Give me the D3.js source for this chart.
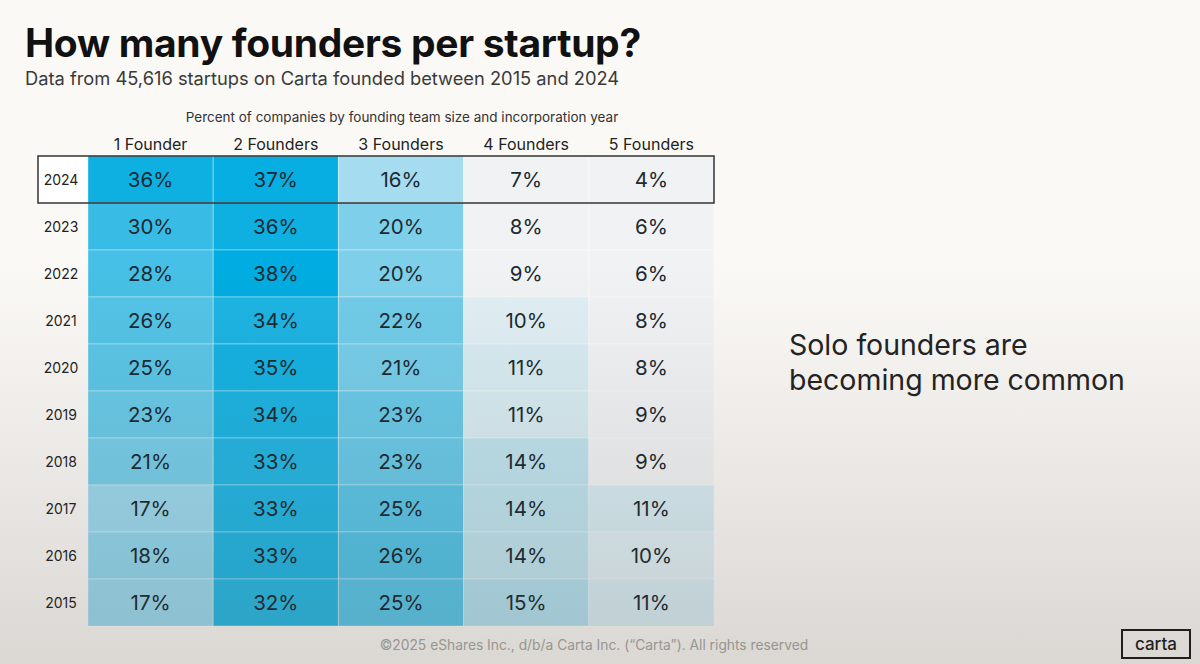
<!DOCTYPE html>
<html>
<head>
<meta charset="utf-8">
<script src="https://cdn.jsdelivr.net/npm/d3@7"></script>
<style>
  body { margin: 0; background: #fbf9f6; }
  svg { display: block; font-family: Inter, "Noto Sans", sans-serif; }
</style>
</head>
<body>
<script>
var years = ["2024", "2023", "2022", "2021", "2020", "2019", "2018", "2017", "2016", "2015"];
var teamSizes = ["1 Founder", "2 Founders", "3 Founders", "4 Founders", "5 Founders"];
var oneFounder   = [36, 30, 28, 26, 25, 23, 21, 17, 18, 17];
var twoFounders  = [37, 36, 38, 34, 35, 34, 33, 33, 33, 32];
var threeFounders = [16, 20, 20, 22, 21, 23, 23, 25, 26, 25];
var fourFounders = [7, 8, 9, 10, 11, 11, 14, 14, 14, 15];
var fiveFounders = [4, 6, 6, 8, 8, 9, 9, 11, 10, 11];
var highlightYear = "2024";

var series = [oneFounder, twoFounders, threeFounders, fourFounders, fiveFounders];
var cells = [];
years.forEach(function(y, i){
	teamSizes.forEach(function(t, j){
		cells.push({year: y, size: t, value: series[j][i]});
	});
});

var W = 1200, H = 664;
var svg = d3.select("body").append("svg").attr("width", W).attr("height", H);

var x = d3.scaleBand().domain(teamSizes).range([88, 714]);
var y = d3.scaleBand().domain(years).range([156, 626]);
var color = d3.scaleLinear()
	.domain([9, 10, 14, 16, 20, 38])
	.range(["#f1f2f4", "#e0eff4", "#c0e4ef", "#a6dcef", "#7ed0ea", "#00ace1"])
	.clamp(true);

// title block
svg.append("text").attr("x", 25).attr("y", 57)
	.style("font-size", "39px").style("font-weight", 700).style("fill", "#111")
	.style("letter-spacing", "-0.3px")
	.text("How many founders per startup?");
svg.append("text").attr("x", 25).attr("y", 85)
	.style("font-size", "18.3px").style("fill", "#3a3a3a")
	.text("Data from 45,616 startups on Carta founded between 2015 and 2024");

svg.append("text").attr("x", 402).attr("y", 122).attr("text-anchor", "middle")
	.style("font-size", "13.5px").style("fill", "#333")
	.text("Percent of companies by founding team size and incorporation year");

// column headers
svg.selectAll(".colhead").data(teamSizes).enter().append("text")
	.attr("class", "colhead")
	.attr("x", function(d){ return x(d) + x.bandwidth() / 2; })
	.attr("y", 150).attr("text-anchor", "middle")
	.style("font-size", "16px").style("fill", "#222")
	.text(function(d){ return d; });

// highlight background for the year label
svg.append("rect")
	.attr("x", 38).attr("y", y(highlightYear))
	.attr("width", 88 - 38).attr("height", y.bandwidth())
	.style("fill", "#ffffff");

// cells
svg.selectAll(".cell").data(cells).enter().append("rect")
	.attr("class", "cell")
	.attr("x", function(d){ return x(d.size); })
	.attr("y", function(d){ return y(d.year); })
	.attr("width", x.bandwidth())
	.attr("height", y.bandwidth())
	.style("fill", function(d){ return color(d.value); })
	.style("stroke", "rgba(255,255,255,0.35)")
	.style("stroke-width", 1);

svg.selectAll(".val").data(cells).enter().append("text")
	.attr("class", "val")
	.attr("x", function(d){ return x(d.size) + x.bandwidth() / 2; })
	.attr("y", function(d){ return y(d.year) + y.bandwidth() / 2 + 7; })
	.attr("text-anchor", "middle")
	.style("font-size", "20.5px").style("fill", "#1c2a32")
	.text(function(d){ return d.value + "%"; });

// year labels
svg.selectAll(".yr").data(years).enter().append("text")
	.attr("class", "yr")
	.attr("x", 61)
	.attr("y", function(d){ return y(d) + y.bandwidth() / 2 + 5; })
	.attr("text-anchor", "middle")
	.style("font-size", "14px").style("fill", "#222")
	.text(function(d){ return d; });

// box round 2024 row
svg.append("rect")
	.attr("x", 38).attr("y", y(highlightYear))
	.attr("width", 714 - 38).attr("height", y.bandwidth())
	.style("fill", "none").style("stroke", "#333").style("stroke-width", 1.5);

// side note
var note = svg.append("text").style("font-size", "28.5px").style("fill", "#222");
note.append("tspan").attr("x", 789).attr("y", 355).text("Solo founders are");
note.append("tspan").attr("x", 789).attr("y", 390).text("becoming more common");

// footer
svg.append("text").attr("x", 594).attr("y", 650).attr("text-anchor", "middle")
	.style("font-size", "13.8px").style("fill", "#a9a8a4")
	.text("\u00a92025 eShares Inc., d/b/a Carta Inc. (\u201cCarta\u201d). All rights reserved");

svg.append("rect").attr("x", 1122).attr("y", 630).attr("width", 68).attr("height", 28)
	.style("fill", "none").style("stroke", "#1a1a1a").style("stroke-width", 2);
svg.append("text").attr("x", 1156).attr("y", 650).attr("text-anchor", "middle")
	.style("font-size", "17px").style("fill", "#1a1a1a").style("font-weight", 500)
	.text("carta");

// darkening toward the bottom, like the photographed slide
var defs = svg.append("defs");
var grad = defs.append("linearGradient").attr("id", "shade")
	.attr("x1", 0).attr("y1", 0).attr("x2", 0).attr("y2", 1);
grad.append("stop").attr("offset", "0.4").attr("stop-color", "#3c372d").attr("stop-opacity", 0);
grad.append("stop").attr("offset", "1").attr("stop-color", "#3c372d").attr("stop-opacity", 0.17);
svg.append("rect").attr("width", W).attr("height", H)
	.style("fill", "url(#shade)").style("pointer-events", "none");
</script>
</body>
</html>
